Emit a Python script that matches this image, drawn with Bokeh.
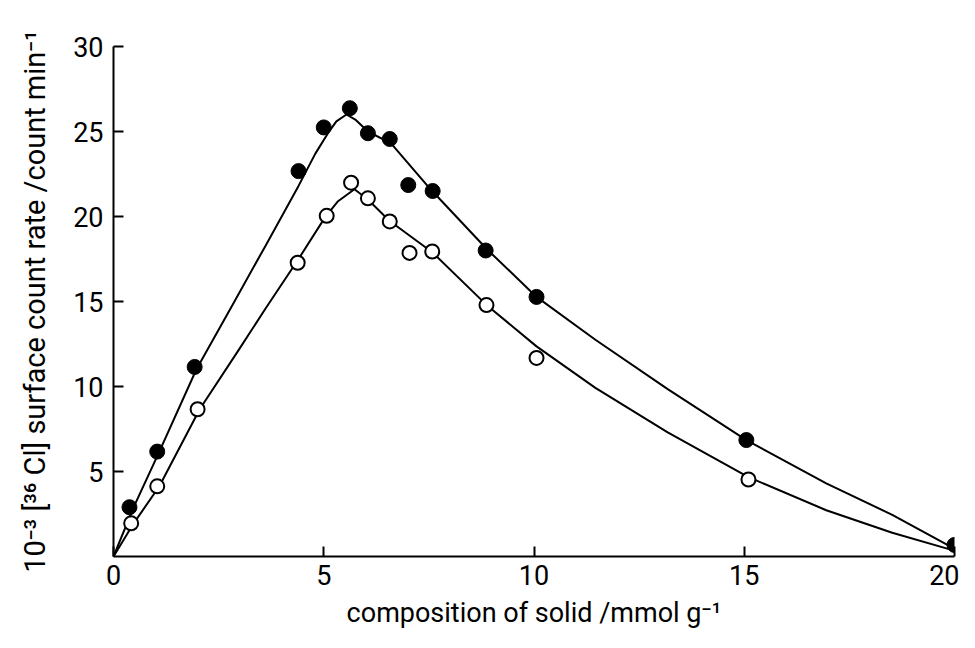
from bokeh.plotting import figure
from bokeh.models import FixedTicker, Range1d
from bokeh.embed import file_html
from bokeh.resources import INLINE

# measured points: filled circles
filled_x = [0.38, 1.04, 1.93, 4.40, 5.00, 5.62, 6.05, 6.57, 7.01, 7.59, 8.85, 10.06, 15.05, 20.0]
filled_y = [2.9, 6.17, 11.15, 22.67, 25.24, 26.37, 24.9, 24.56, 21.85, 21.5, 18.0, 15.27, 6.85, 0.68]

# measured points: open circles
open_x = [0.42, 1.04, 2.0, 4.38, 5.07, 5.65, 6.05, 6.57, 7.04, 7.58, 8.87, 10.06, 15.1]
open_y = [1.95, 4.13, 8.66, 17.28, 20.04, 21.99, 21.07, 19.71, 17.86, 17.94, 14.79, 11.68, 4.53]

# fitted curves
fcurve_x = [0, 0.48, 1.09, 1.97, 2.83, 3.62, 4.40, 4.80, 5.10, 5.30, 5.54, 5.75, 6.05, 6.6, 7.54, 8.87, 10.06, 11.46, 13.18, 15.05, 16.95, 18.52, 19.93]
fcurve_y = [0, 2.9, 6.17, 11.0, 14.8, 18.3, 21.8, 23.7, 24.9, 25.6, 26.0, 25.7, 25.0, 24.3, 21.6, 18.1, 15.27, 12.75, 9.85, 6.85, 4.3, 2.45, 0.55]

ocurve_x = [0, 0.48, 1.09, 2.05, 2.99, 3.62, 4.4, 5.03, 5.34, 5.73, 6.05, 6.56, 7.58, 8.87, 10.06, 11.46, 13.18, 15.1, 16.95, 18.52, 19.93]
ocurve_y = [0, 1.95, 4.13, 8.66, 12.2, 14.6, 17.5, 19.95, 20.9, 21.6, 21.0, 19.75, 17.9, 14.8, 12.36, 9.92, 7.3, 4.67, 2.72, 1.4, 0.39]

x_ticks = [0, 5, 10, 15, 20]
y_ticks = [5, 10, 15, 20, 25, 30]

x_title = "composition of solid /mmol g\u207b\u00b9"
y_title = "10\u207b\u00b3 [\u00b3\u2076 Cl] surface count rate /count min\u207b\u00b9"

FONT = "Roboto"

p = figure(width=959, height=632, x_range=Range1d(0, 20), y_range=Range1d(0, 30),
           output_backend="svg", toolbar_location=None,
           min_border_left=113, min_border_right=5, min_border_top=46, min_border_bottom=76)
p.outline_line_color = None
p.xgrid.grid_line_color = None
p.ygrid.grid_line_color = None
p.background_fill_color = "white"
p.border_fill_color = "white"

for ax in (p.xaxis[0], p.yaxis[0]):
    ax.axis_line_width = 2
    ax.axis_line_color = "black"
    ax.major_tick_in = 10
    ax.major_tick_out = 0
    ax.major_tick_line_width = 2
    ax.major_tick_line_color = "black"
    ax.minor_tick_line_color = None
    ax.major_label_text_font = FONT
    ax.major_label_text_font_size = "27px"
    ax.major_label_text_color = "black"
    ax.axis_label_text_font = FONT
    ax.axis_label_text_font_style = "normal"
    ax.axis_label_text_color = "black"

p.xaxis[0].major_label_standoff = 8
p.yaxis[0].major_label_standoff = 10
p.xaxis[0].axis_label_text_font_size = "27px"
p.yaxis[0].axis_label_text_font_size = "29px"
p.xaxis[0].ticker = FixedTicker(ticks=x_ticks)
p.yaxis[0].ticker = FixedTicker(ticks=y_ticks)
p.xaxis[0].axis_label = x_title
p.yaxis[0].axis_label = y_title
p.xaxis[0].axis_label_standoff = 9
p.yaxis[0].axis_label_standoff = 18

p.line(fcurve_x, fcurve_y, line_color="black", line_width=2)
p.line(ocurve_x, ocurve_y, line_color="black", line_width=2)

p.scatter(filled_x, filled_y, size=15, marker="circle", fill_color="black", line_color="black")
p.scatter(open_x, open_y, size=14, marker="circle", fill_color="white", line_color="black", line_width=2)

open("out.html", "w").write(file_html(p, INLINE))
